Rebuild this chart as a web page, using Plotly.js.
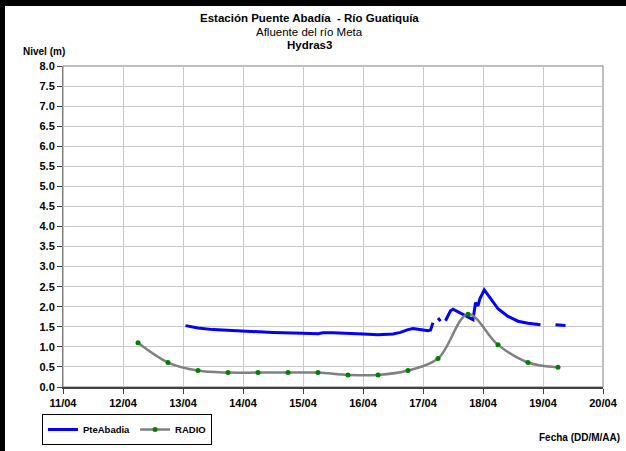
<!DOCTYPE html>
<html>
<head>
<meta charset="utf-8">
<script src="https://cdn.plot.ly/plotly-3.0.1.min.js"></script>
<style>
  html, body { margin: 0; padding: 0; background: #fff; }
  #wrap { position: relative; width: 626px; height: 451px; }
  #chart { width: 626px; height: 451px; }
  .bar { position: absolute; background: #000; pointer-events: none; }
</style>
</head>
<body>
<div id="wrap">
  <div id="chart"></div>
  <div class="bar" style="left:0;top:0;width:626px;height:6px;"></div>
  <div class="bar" style="left:0;top:0;width:5px;height:451px;"></div>
</div>
<script>
// ---- Data ----
const radioTimes = [
  "2013-04-12 06:00", "2013-04-12 18:00", "2013-04-13 06:00", "2013-04-13 18:00",
  "2013-04-14 06:00", "2013-04-14 18:00", "2013-04-15 06:00", "2013-04-15 18:00",
  "2013-04-16 06:00", "2013-04-16 18:00", "2013-04-17 06:00", "2013-04-17 18:00",
  "2013-04-18 06:00", "2013-04-18 18:00", "2013-04-19 06:00"
];
const radioLevels = [1.10, 0.61, 0.41, 0.36, 0.36, 0.36, 0.36, 0.30, 0.30, 0.41, 0.71, 1.81, 1.05, 0.61, 0.49];

const pteTimes = [
  "2013-04-13 01:00", "2013-04-13 06:00", "2013-04-13 12:00", "2013-04-13 18:00",
  "2013-04-14 00:00", "2013-04-14 12:00", "2013-04-15 00:00", "2013-04-15 06:00",
  "2013-04-15 08:00", "2013-04-15 12:00", "2013-04-16 00:00", "2013-04-16 06:00",
  "2013-04-16 12:00", "2013-04-16 15:00", "2013-04-16 18:00", "2013-04-16 20:00",
  "2013-04-16 22:00", "2013-04-17 02:00", "2013-04-17 03:00", "2013-04-17 04:00",
  "2013-04-17 05:00",
  "2013-04-17 06:00", "2013-04-17 07:00",
  "2013-04-17 08:00",
  "2013-04-17 09:00", "2013-04-17 11:00", "2013-04-17 12:00", "2013-04-17 15:00",
  "2013-04-17 18:00", "2013-04-17 19:00", "2013-04-17 20:00", "2013-04-17 21:00",
  "2013-04-17 22:00", "2013-04-17 22:45", "2013-04-18 00:30", "2013-04-18 03:00",
  "2013-04-18 06:00", "2013-04-18 10:00", "2013-04-18 14:00", "2013-04-18 18:00",
  "2013-04-18 22:00", "2013-04-18 23:00",
  "2013-04-19 02:00",
  "2013-04-19 05:00", "2013-04-19 09:00"
];
const pteLevels = [
  1.53, 1.47, 1.43, 1.41,
  1.39, 1.36, 1.34, 1.33,
  1.35, 1.35, 1.32, 1.30,
  1.32, 1.36, 1.43, 1.46,
  1.44, 1.40, 1.42, 1.60,
  null,
  1.72, 1.64,
  null,
  1.65, 1.90, 1.94, 1.84,
  1.73, 1.70, 1.68, 2.10,
  2.02, 2.20, 2.42, 2.21,
  1.95, 1.76, 1.64, 1.59,
  1.55, 1.55,
  null,
  1.55, 1.53
];

const xTickRange = ["2013-04-11 00:00", "2013-04-20 00:00"];

// ---- Chart ----
const FONT = "Liberation Sans, Arial, sans-serif";

const traces = [
  {
    x: pteTimes, y: pteLevels, name: "PteAbadia", type: "scatter", mode: "lines",
    connectgaps: false,
    line: { color: "#0000ff", width: 3 }
  },
  {
    x: radioTimes, y: radioLevels, name: "RADIO", type: "scatter", mode: "lines+markers",
    line: { color: "#808080", width: 2.5, shape: "spline", smoothing: 1 },
    marker: { color: "#008000", size: 5 }
  }
];

const layout = {
  width: 626, height: 451,
  margin: { l: 63, r: 23, t: 66, b: 64, autoexpand: false },
  paper_bgcolor: "#ffffff",
  plot_bgcolor: "#ffffff",
  font: { family: FONT, color: "#000", size: 10 },
  showlegend: true,
  legend: {
    orientation: "h", x: -0.039, y: (387 - 445) / 321, xanchor: "left", yanchor: "bottom",
    bordercolor: "#000", borderwidth: 1,
    font: { family: FONT, size: 9.5, color: "#000", weight: "bold" },
    itemwidth: 30, tracegroupgap: 0
  },
  xaxis: {
    type: "date", range: xTickRange, dtick: 86400000, tick0: "2013-04-11",
    tickformat: "%d/%m",
    showgrid: true, gridcolor: "#c8c8c8", gridwidth: 1,
    showline: true, linecolor: "#404040", linewidth: 2,
    ticks: "outside", ticklen: 5, tickcolor: "#404040", tickwidth: 1,
    tickfont: { family: FONT, size: 11, color: "#000", weight: "bold" },
    zeroline: false, fixedrange: true
  },
  yaxis: {
    range: [0, 8], dtick: 0.5, tick0: 0, tickformat: ".1f",
    showgrid: true, gridcolor: "#c8c8c8", gridwidth: 1,
    showline: true, linecolor: "#808080", linewidth: 1,
    ticks: "outside", ticklen: 5, tickcolor: "#404040", tickwidth: 1,
    tickfont: { family: FONT, size: 11, color: "#000", weight: "bold" },
    zeroline: false, fixedrange: true
  },
  shapes: [
    { type: "rect", xref: "paper", yref: "paper", x0: 0, x1: 1, y0: 0, y1: 1,
      line: { color: "#808080", width: 1 }, fillcolor: "rgba(0,0,0,0)", layer: "below" }
  ],
  annotations: [
    { text: "<b>Estación Puente Abadía  - Río Guatiquía</b>", xref: "paper", yref: "paper",
      x: 0.4556, y: 1.1495, xanchor: "center", yanchor: "middle", showarrow: false,
      font: { family: FONT, size: 11.5, color: "#000" } },
    { text: "Afluente del río Meta", xref: "paper", yref: "paper",
      x: 0.4556, y: 1.106, xanchor: "center", yanchor: "middle", showarrow: false,
      font: { family: FONT, size: 11.5, color: "#000" } },
    { text: "<b>Hydras3</b>", xref: "paper", yref: "paper",
      x: 0.4556, y: 1.0655, xanchor: "center", yanchor: "middle", showarrow: false,
      font: { family: FONT, size: 11.5, color: "#000" } },
    { text: "<b>Nivel (m)</b>", xref: "paper", yref: "paper",
      x: (44 - 63) / 540, y: (387 - 51) / 321, xanchor: "center", yanchor: "middle", showarrow: false,
      font: { family: FONT, size: 10, color: "#000" } },
    { text: "<b>Fecha (DD/M/AA)</b>", xref: "paper", yref: "paper",
      x: (622 - 63) / 540, y: (387 - 438) / 321, xanchor: "right", yanchor: "middle", showarrow: false,
      font: { family: FONT, size: 10, color: "#000" } }
  ]
};

Plotly.newPlot("chart", traces, layout, { displayModeBar: false, staticPlot: true });
</script>
</body>
</html>
